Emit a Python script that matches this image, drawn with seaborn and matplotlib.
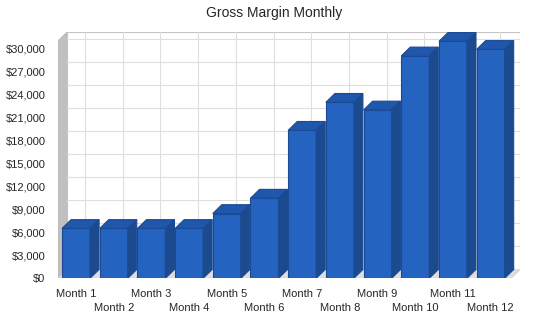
import matplotlib
matplotlib.use("Agg")
import matplotlib.pyplot as plt
import pandas as pd
import seaborn as sns
from matplotlib.patches import Polygon
from matplotlib.ticker import FuncFormatter
from matplotlib.transforms import ScaledTranslation

months = ["Month 1", "Month 2", "Month 3", "Month 4", "Month 5", "Month 6",
          "Month 7", "Month 8", "Month 9", "Month 10", "Month 11", "Month 12"]
gross_margin = [6500, 6500, 6500, 6500, 8450, 10450,
                19300, 22950, 21950, 29000, 30900, 29850]
y_ticks = [0, 3000, 6000, 9000, 12000, 15000, 18000, 21000, 24000, 27000, 30000]

sns.set_style("white")
plt.rcParams["font.family"] = ["Liberation Sans", "DejaVu Sans"]

df = pd.DataFrame({"month": months, "margin": gross_margin})

fig = plt.figure(figsize=(5.5, 3.18), dpi=100)
ax = fig.add_axes([0.1055, 0.1248, 0.84, 0.7746])

# fake 3d depth, in data units
dx, dy = 0.24, 1150
xl, xr = -0.478, 11.78
ytop = 32124
wall_h = ytop - dy

# side wall, floor, back wall
ax.add_patch(Polygon([(xl, 0), (xl, wall_h), (xl + dx, ytop), (xl + dx, dy)],
                     closed=True, facecolor="#c0c0c0", edgecolor="#b8b8b8", lw=0.6, zorder=0))
ax.add_patch(Polygon([(xl, 0), (xr - dx, 0), (xr, dy), (xl + dx, dy)],
                     closed=True, facecolor="#dedede", edgecolor="#c8c8c8", lw=0.6, zorder=0))
ax.add_patch(Polygon([(xl + dx, dy), (xr, dy), (xr, ytop), (xl + dx, ytop)],
                     closed=True, facecolor="white", edgecolor="#c4c4c4", lw=0.8, zorder=0))
for v in y_ticks:
    ax.plot([xl + dx, xr], [v + dy, v + dy], color="#dedede", lw=0.8, zorder=0.5)
for i in range(len(months)):
    ax.plot([i + dx, i + dx], [dy, ytop], color="#dedede", lw=0.8, zorder=0.5)

sns.barplot(data=df, x="month", y="margin", color="#2563c1", saturation=1,
            width=0.743, edgecolor="#1b4a93", linewidth=0.8, ax=ax, zorder=2)

for p in ax.patches:
    if p.get_zorder() != 2 or not hasattr(p, "get_width"):
        continue
    x0, w, h = p.get_x(), p.get_width(), p.get_height()
    top = Polygon([(x0, h), (x0 + w, h), (x0 + w + dx, h + dy), (x0 + dx, h + dy)],
                  closed=True, facecolor="#1f57ad", edgecolor="#1b4a93", lw=0.8, zorder=2)
    side = Polygon([(x0 + w, 0), (x0 + w + dx, dy), (x0 + w + dx, h + dy), (x0 + w, h)],
                   closed=True, facecolor="#1c4a8e", edgecolor="#1b4a93", lw=0.8, zorder=2)
    ax.add_patch(top)
    ax.add_patch(side)

ax.set_xlim(xl, xr)
ax.set_ylim(0, ytop)
ax.set_yticks(y_ticks)
ax.yaxis.set_major_formatter(FuncFormatter(lambda v, _: f"${v:,.0f}"))
ax.set_xticks(range(len(months)))
ax.set_xticklabels(months)
ax.tick_params(axis="y", length=0, pad=9, labelsize=8)
ax.tick_params(axis="x", length=3, color="#c8c8c8", pad=5, labelsize=8)
# stagger the even months onto a second row
for i, lbl in enumerate(ax.get_xticklabels()):
    if i % 2 == 1:
        lbl.set_transform(lbl.get_transform() + ScaledTranslation(0, -0.14, fig.dpi_scale_trans))
ax.set_xlabel("")
ax.set_ylabel("")
for s in ax.spines.values():
    s.set_visible(False)

fig.text(0.498, 0.958, "Gross Margin Monthly", ha="center", va="center", fontsize=10)

fig.savefig("out.png", dpi=100)
